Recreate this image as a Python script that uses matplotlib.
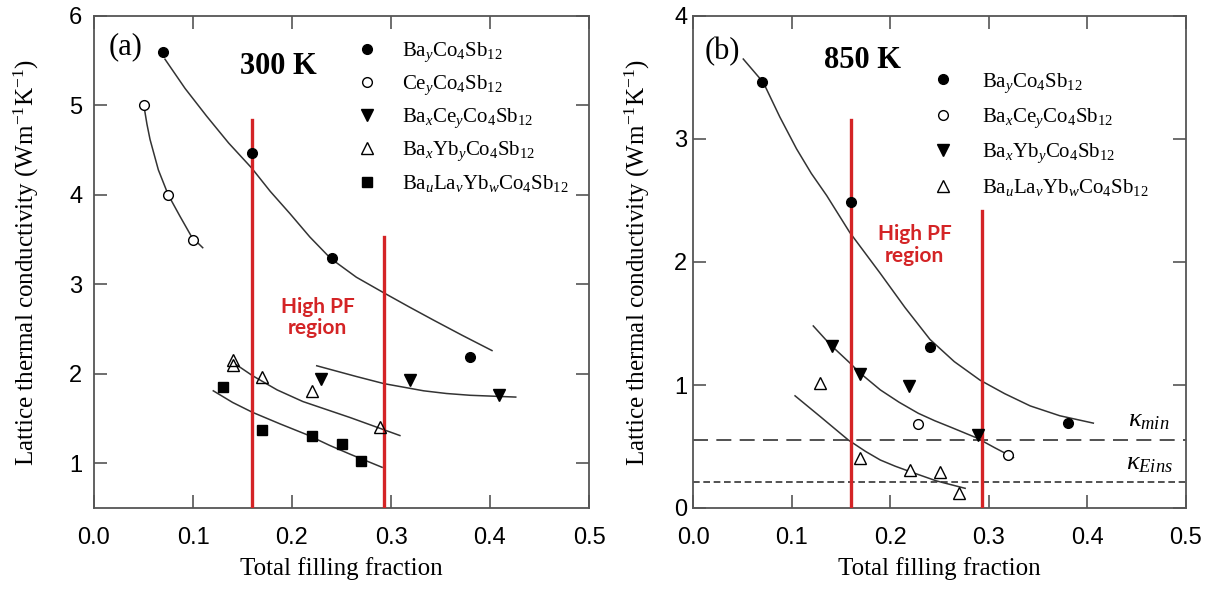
import matplotlib
matplotlib.use("Agg")
import matplotlib.pyplot as plt

plt.rcParams['mathtext.fontset'] = 'custom'
plt.rcParams['mathtext.rm'] = 'Liberation Serif'
plt.rcParams['mathtext.it'] = 'Liberation Serif:italic'
plt.rcParams['mathtext.bf'] = 'Liberation Serif:bold'

# ---------------- Panel (a): 300 K ----------------
a_ba_x = [0.07, 0.16, 0.24, 0.38]
a_ba_y = [5.60, 4.47, 3.30, 2.19]
a_ce_x = [0.05, 0.075, 0.10]
a_ce_y = [5.00, 4.00, 3.50]
a_bace_x = [0.229, 0.319, 0.409]
a_bace_y = [1.94, 1.93, 1.76]
a_bayb_x = [0.140, 0.140, 0.170, 0.220, 0.289]
a_bayb_y = [2.16, 2.10, 1.96, 1.81, 1.40]
a_balayb_x = [0.130, 0.170, 0.220, 0.250, 0.270]
a_balayb_y = [1.85, 1.37, 1.31, 1.22, 1.02]

# fitted guide curves
a_fit_ba_x = [0.0717, 0.092, 0.1138, 0.136, 0.1593, 0.178, 0.198, 0.218, 0.239, 0.265, 0.292, 0.318, 0.343, 0.372, 0.402]
a_fit_ba_y = [5.517, 5.19, 4.88, 4.58, 4.30, 4.04, 3.79, 3.53, 3.29, 3.08, 2.91, 2.75, 2.60, 2.43, 2.26]
a_fit_ce_x = [0.0505, 0.0535, 0.0566, 0.065, 0.075, 0.0869, 0.0987, 0.1098]
a_fit_ce_y = [4.99, 4.79, 4.62, 4.28, 4.00, 3.76, 3.53, 3.41]
a_fit_bace_x = [0.225, 0.245, 0.265, 0.293, 0.313, 0.333, 0.356, 0.380, 0.403, 0.426]
a_fit_bace_y = [2.09, 2.03, 1.97, 1.89, 1.85, 1.81, 1.78, 1.76, 1.75, 1.74]
a_fit_bayb_x = [0.144, 0.160, 0.185, 0.211, 0.235, 0.259, 0.284, 0.309]
a_fit_bayb_y = [2.10, 1.98, 1.82, 1.69, 1.60, 1.51, 1.41, 1.31]
a_fit_balayb_x = [0.1205, 0.140, 0.160, 0.188, 0.215, 0.238, 0.259, 0.291]
a_fit_balayb_y = [1.81, 1.68, 1.57, 1.44, 1.32, 1.20, 1.10, 0.955]

a_red_x = [0.160, 0.293]
a_red_top = [4.84, 3.53]

# ---------------- Panel (b): 850 K ----------------
b_ba_x = [0.07, 0.16, 0.24, 0.38]
b_ba_y = [3.46, 2.49, 1.31, 0.69]
b_bace_x = [0.2285, 0.319]
b_bace_y = [0.68, 0.43]
b_bayb_x = [0.141, 0.169, 0.219, 0.289]
b_bayb_y = [1.32, 1.09, 0.99, 0.595]
b_balayb_x = [0.129, 0.169, 0.220, 0.250, 0.270]
b_balayb_y = [1.016, 0.41, 0.31, 0.296, 0.125]

b_fit_ba_x = [0.051, 0.0713, 0.088, 0.105, 0.120, 0.1356, 0.159, 0.1897, 0.215, 0.2404, 0.265, 0.291, 0.316, 0.342, 0.372, 0.406]
b_fit_ba_y = [3.65, 3.46, 3.18, 2.92, 2.72, 2.54, 2.24, 1.91, 1.63, 1.37, 1.19, 1.04, 0.93, 0.83, 0.75, 0.69]
b_fit_mid_x = [0.122, 0.139, 0.159, 0.169, 0.190, 0.209, 0.2285, 0.245, 0.262, 0.2877, 0.306, 0.325]
b_fit_mid_y = [1.48, 1.33, 1.18, 1.10, 0.96, 0.86, 0.77, 0.71, 0.655, 0.57, 0.49, 0.41]
b_fit_low_x = [0.1035, 0.1288, 0.1575, 0.175, 0.190, 0.205, 0.220, 0.247, 0.276]
b_fit_low_y = [0.912, 0.745, 0.553, 0.46, 0.39, 0.34, 0.296, 0.22, 0.16]

b_red_x = [0.160, 0.293]
b_red_top = [3.155, 2.414]
kappa_min = 0.55
kappa_eins = 0.21

x_ticks = [0.0, 0.1, 0.2, 0.3, 0.4, 0.5]
x_ticklabels = ['0.0', '0.1', '0.2', '0.3', '0.4', '0.5']
a_yticks = [1, 2, 3, 4, 5, 6]
b_yticks = [0, 1, 2, 3, 4]

lab_ba = r'Ba$_y$Co$_4$Sb$_{12}$'
lab_ce = r'Ce$_y$Co$_4$Sb$_{12}$'
lab_bace = r'Ba$_x$Ce$_y$Co$_4$Sb$_{12}$'
lab_bayb = r'Ba$_x$Yb$_y$Co$_4$Sb$_{12}$'
lab_balayb = r'Ba$_u$La$_v$Yb$_w$Co$_4$Sb$_{12}$'

RED = '#d42426'
SPINE = '#555555'
SERIF = 'Liberation Serif'
SANS = 'Liberation Sans'

fig = plt.figure(figsize=(12.13, 5.99), dpi=100)
axa = fig.add_axes([94 / 1213, 91 / 599, 495 / 1213, 492 / 599])
axb = fig.add_axes([693 / 1213, 91 / 599, 493 / 1213, 492 / 599])

ms = 7
curve_kw = dict(color='#333333', lw=1.1, zorder=2, solid_joinstyle='round')


def style(ax, yticks, ylim, ypad):
    ax.set_xlim(0, 0.5)
    ax.set_ylim(*ylim)
    ax.set_xticks(x_ticks)
    ax.set_xticklabels(x_ticklabels)
    ax.set_yticks(yticks)
    ax.set_yticklabels([str(t) for t in yticks])
    ax.tick_params(direction='in', top=True, right=True, length=9.5, width=1.2,
                   color=SPINE, labelsize=17)
    ax.tick_params(axis='x', pad=14)
    ax.tick_params(axis='y', pad=ypad)
    for lbl in ax.get_xticklabels() + ax.get_yticklabels():
        lbl.set_fontfamily(SANS)
    for s in ax.spines.values():
        s.set_color(SPINE)
        s.set_linewidth(1.3)
    ax.set_xlabel('Total filling fraction', fontfamily=SERIF, fontsize=18)
    ax.set_ylabel(r'Lattice thermal conductivity (Wm$^{\mathregular{-1}}$K$^{\mathregular{-1}}$)',
                  fontfamily=SERIF, fontsize=18)
    ax.xaxis.set_label_coords(0.5, -0.099)


# ----- panel a -----
style(axa, a_yticks, (0.5, 6), 8.5)
axa.yaxis.set_label_coords(-0.108, 0.5)
axa.plot(a_fit_ba_x, a_fit_ba_y, **curve_kw)
axa.plot(a_fit_ce_x, a_fit_ce_y, **curve_kw)
axa.plot(a_fit_bace_x, a_fit_bace_y, **curve_kw)
axa.plot(a_fit_bayb_x, a_fit_bayb_y, **curve_kw)
axa.plot(a_fit_balayb_x, a_fit_balayb_y, **curve_kw)
for xr, top in zip(a_red_x, a_red_top):
    axa.plot([xr, xr], [0.5, top], color=RED, lw=2.4, zorder=3)
axa.plot(a_ba_x, a_ba_y, 'o', color='black', ms=ms, ls='none', label=lab_ba, zorder=4)
axa.plot(a_ce_x, a_ce_y, 'o', mfc='white', mec='black', mew=1.0, ms=ms, ls='none', label=lab_ce, zorder=4)
axa.plot(a_bace_x, a_bace_y, 'v', color='black', ms=ms + 1, ls='none', label=lab_bace, zorder=4)
axa.plot(a_bayb_x, a_bayb_y, '^', mfc='none', mec='black', mew=1.0, ms=ms + 1, ls='none', label=lab_bayb, zorder=4)
axa.plot(a_balayb_x, a_balayb_y, 's', color='black', ms=ms - 0.5, ls='none', label=lab_balayb, zorder=4)
axa.legend(loc='upper left', bbox_to_anchor=(0.530, 0.950), frameon=False,
           prop={'family': SERIF, 'size': 15}, handlelength=1.0, handletextpad=1.2,
           labelspacing=0.46, borderpad=0, borderaxespad=0, numpoints=1)
axa.text(0.063, 0.937, '(a)', transform=axa.transAxes, ha='center', va='center',
         fontfamily=SERIF, fontsize=22)
axa.text(0.186, 5.43, '300 K', ha='center', va='center', fontfamily=SERIF,
         fontsize=22, fontweight='bold')
axa.text(0.226, 2.63, 'High PF\nregion', ha='center', va='center', color=RED,
         fontfamily='Lato', fontweight='bold', fontsize=15, linespacing=1.1)

# ----- panel b -----
style(axb, b_yticks, (0, 4), 4)
axb.yaxis.set_label_coords(-0.083, 0.5)
axb.axhline(kappa_min, color='#333333', lw=1.2, dashes=(9, 5), zorder=1)
axb.axhline(kappa_eins, color='#333333', lw=1.2, dashes=(4, 2.2), zorder=1)
axb.plot(b_fit_ba_x, b_fit_ba_y, **curve_kw)
axb.plot(b_fit_mid_x, b_fit_mid_y, **curve_kw)
axb.plot(b_fit_low_x, b_fit_low_y, **curve_kw)
for xr, top in zip(b_red_x, b_red_top):
    axb.plot([xr, xr], [0, top], color=RED, lw=2.4, zorder=3)
axb.plot(b_ba_x, b_ba_y, 'o', color='black', ms=ms, ls='none', label=lab_ba, zorder=4)
axb.plot(b_bace_x, b_bace_y, 'o', mfc='white', mec='black', mew=1.0, ms=ms, ls='none', label=lab_bace, zorder=4)
axb.plot(b_bayb_x, b_bayb_y, 'v', color='black', ms=ms + 1, ls='none', label=lab_bayb, zorder=4)
axb.plot(b_balayb_x, b_balayb_y, '^', mfc='white', mec='black', mew=1.0, ms=ms + 1, ls='none', label=lab_balayb, zorder=4)
axb.legend(loc='upper left', bbox_to_anchor=(0.486, 0.888), frameon=False,
           prop={'family': SERIF, 'size': 15}, handlelength=1.0, handletextpad=1.35,
           labelspacing=0.57, borderpad=0, borderaxespad=0, numpoints=1)
axb.text(0.059, 0.927, '(b)', transform=axb.transAxes, ha='center', va='center',
         fontfamily=SERIF, fontsize=22)
axb.text(0.172, 3.64, '850 K', ha='center', va='center', fontfamily=SERIF,
         fontsize=22, fontweight='bold')
axb.text(0.225, 2.14, 'High PF\nregion', ha='center', va='center', color=RED,
         fontfamily='Lato', fontweight='bold', fontsize=15, linespacing=1.1)
axb.text(0.462, 0.72, r'$\kappa_{min}$', ha='center', va='center', fontsize=19)
axb.text(0.463, 0.37, r'$\kappa_{Eins}$', ha='center', va='center', fontsize=19)

fig.savefig('out.png', dpi=100)
